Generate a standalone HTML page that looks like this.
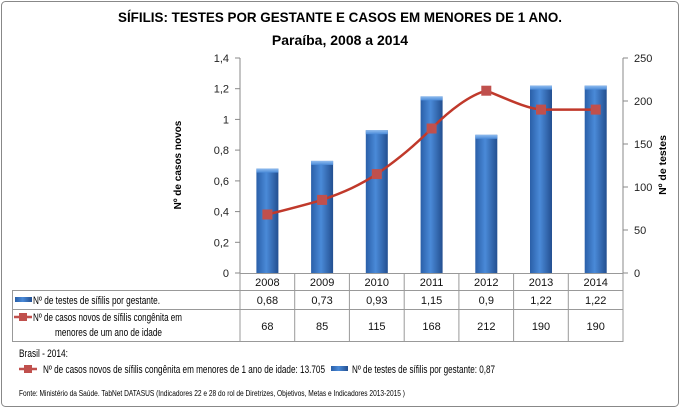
<!DOCTYPE html>
<html><head><meta charset="utf-8"><style>
body{margin:0;background:#fff}
svg{display:block;font-family:"Liberation Sans",sans-serif}
</style></head><body>
<svg width="680" height="408" viewBox="0 0 680 408">
<defs>
<linearGradient id="bg" x1="0" x2="1" y1="0" y2="0">
<stop offset="0" stop-color="#2a5fa8"/><stop offset="0.45" stop-color="#4a8ad8"/><stop offset="1" stop-color="#234f90"/>
</linearGradient>
<linearGradient id="bt" x1="0" x2="0" y1="0" y2="1">
<stop offset="0" stop-color="#8fbcef"/><stop offset="1" stop-color="#4a8ad8"/>
</linearGradient>
</defs>
<rect x="1.5" y="1.5" width="677" height="405" rx="4" fill="#fff" stroke="#888"/>
<text x="118" y="22" font-size="14" font-weight="bold" textLength="444" lengthAdjust="spacingAndGlyphs">SÍFILIS: TESTES POR GESTANTE E CASOS EM MENORES DE 1 ANO.</text>
<text x="340" y="45" font-size="14" font-weight="bold" text-anchor="middle">Paraíba, 2008 a 2014</text>
<g stroke="#888" stroke-width="1">
<line x1="240" y1="58" x2="240" y2="273"/>
<line x1="623" y1="58" x2="623" y2="273"/>
<line x1="235" y1="58" x2="240" y2="58"/><line x1="235" y1="88.7" x2="240" y2="88.7"/><line x1="235" y1="119.4" x2="240" y2="119.4"/><line x1="235" y1="150.1" x2="240" y2="150.1"/><line x1="235" y1="180.9" x2="240" y2="180.9"/><line x1="235" y1="211.6" x2="240" y2="211.6"/><line x1="235" y1="242.3" x2="240" y2="242.3"/><line x1="235" y1="273" x2="240" y2="273"/>
<line x1="623" y1="58" x2="628" y2="58"/><line x1="623" y1="101" x2="628" y2="101"/><line x1="623" y1="144" x2="628" y2="144"/><line x1="623" y1="187" x2="628" y2="187"/><line x1="623" y1="230" x2="628" y2="230"/><line x1="623" y1="273" x2="628" y2="273"/>
</g>
<g font-size="11" text-anchor="end" fill="#222">
<text x="229" y="62">1,4</text><text x="229" y="92.7">1,2</text><text x="229" y="123.4">1</text><text x="229" y="154.1">0,8</text><text x="229" y="184.9">0,6</text><text x="229" y="215.6">0,4</text><text x="229" y="246.3">0,2</text><text x="229" y="277">0</text>
</g>
<g font-size="11" fill="#222">
<text x="634" y="62">250</text><text x="634" y="105">200</text><text x="634" y="148">150</text><text x="634" y="191">100</text><text x="634" y="234">50</text><text x="634" y="277">0</text>
</g>
<text transform="translate(181,165) rotate(-90)" font-size="10" font-weight="bold" text-anchor="middle">Nº de casos  novos</text>
<text transform="translate(666,165) rotate(-90)" font-size="10.5" font-weight="bold" text-anchor="middle">Nº de testes</text>
<g fill="url(#bg)">
<rect x="256.4" y="168.6" width="22" height="104.4"/>
<rect x="311.1" y="160.9" width="22" height="112.1"/>
<rect x="365.8" y="130.2" width="22" height="142.8"/>
<rect x="420.6" y="96.4" width="22" height="176.6"/>
<rect x="475.3" y="134.8" width="22" height="138.2"/>
<rect x="530" y="85.6" width="22" height="187.4"/>
<rect x="584.7" y="85.6" width="22" height="187.4"/>
</g>
<g fill="url(#bt)">
<rect x="256.4" y="168.6" width="22" height="4"/><rect x="311.1" y="160.9" width="22" height="4"/><rect x="365.8" y="130.2" width="22" height="4"/><rect x="420.6" y="96.4" width="22" height="4"/><rect x="475.3" y="134.8" width="22" height="4"/><rect x="530" y="85.6" width="22" height="4"/><rect x="584.7" y="85.6" width="22" height="4"/>
</g>
<path d="M267.4,214.5 C285,210 305,205 322.1,199.9 C345,192 360,185 376.8,174.1 C400,158 415,145 431.6,128.5 C450,110 470,95 486.3,90.7 C505,98 525,108 541,109.6 L595.7,109.6" fill="none" stroke="#c0392b" stroke-width="2.5"/>
<g fill="#c0504d">
<rect x="262.4" y="209.5" width="10" height="10"/><rect x="317.1" y="194.9" width="10" height="10"/><rect x="371.8" y="169.1" width="10" height="10"/><rect x="426.6" y="123.5" width="10" height="10"/><rect x="481.3" y="85.7" width="10" height="10"/><rect x="536" y="104.6" width="10" height="10"/><rect x="590.7" y="104.6" width="10" height="10"/>
</g>
<g stroke="#999" fill="none" stroke-width="1">
<rect x="12.5" y="290.5" width="610.5" height="51"/>
<line x1="240" y1="273" x2="240" y2="341.5"/>
<line x1="294.7" y1="273" x2="294.7" y2="341.5"/><line x1="349.4" y1="273" x2="349.4" y2="341.5"/><line x1="404.2" y1="273" x2="404.2" y2="341.5"/><line x1="458.9" y1="273" x2="458.9" y2="341.5"/><line x1="513.6" y1="273" x2="513.6" y2="341.5"/><line x1="568.3" y1="273" x2="568.3" y2="341.5"/><line x1="623" y1="273" x2="623" y2="341.5"/>
<line x1="12.5" y1="309.5" x2="623" y2="309.5"/>
<line x1="240" y1="273.5" x2="623" y2="273.5"/>
</g>
<g font-size="11" text-anchor="middle" fill="#111">
<text x="267.4" y="286">2008</text><text x="322.1" y="286">2009</text><text x="376.8" y="286">2010</text><text x="431.6" y="286">2011</text><text x="486.3" y="286">2012</text><text x="541" y="286">2013</text><text x="595.7" y="286">2014</text>
<text x="267.4" y="304">0,68</text><text x="322.1" y="304">0,73</text><text x="376.8" y="304">0,93</text><text x="431.6" y="304">1,15</text><text x="486.3" y="304">0,9</text><text x="541" y="304">1,22</text><text x="595.7" y="304">1,22</text>
<text x="267.4" y="330">68</text><text x="322.1" y="330">85</text><text x="376.8" y="330">115</text><text x="431.6" y="330">168</text><text x="486.3" y="330">212</text><text x="541" y="330">190</text><text x="595.7" y="330">190</text>
</g>
<rect x="15" y="297" width="17" height="5" fill="url(#bg)"/>
<text x="33" y="304" font-size="11" textLength="127" lengthAdjust="spacingAndGlyphs">Nº de testes de sífilis por gestante.</text>
<line x1="14" y1="317" x2="32" y2="317" stroke="#c0504d" stroke-width="2.5"/><rect x="19" y="313" width="8" height="8" fill="#c0504d"/>
<text x="33" y="321" font-size="11" textLength="149" lengthAdjust="spacingAndGlyphs">Nº de casos novos de sífilis congênita em</text>
<text x="55" y="336" font-size="11" textLength="107" lengthAdjust="spacingAndGlyphs">menores de um ano de idade</text>
<text x="19" y="357" font-size="11" textLength="49" lengthAdjust="spacingAndGlyphs">Brasil - 2014:</text>
<line x1="19" y1="369" x2="37" y2="369" stroke="#c0504d" stroke-width="2.5"/><rect x="24" y="365" width="8" height="8" fill="#c0504d"/>
<text x="43" y="373" font-size="11" textLength="282" lengthAdjust="spacingAndGlyphs">Nº de casos novos de sífilis congênita em menores de 1 ano de idade: 13.705</text>
<rect x="331" y="366" width="17" height="5" fill="url(#bg)"/>
<text x="352" y="373" font-size="11" textLength="143" lengthAdjust="spacingAndGlyphs">Nº de testes de sífilis por gestante: 0,87</text>
<text x="19" y="396" font-size="8" textLength="386" lengthAdjust="spacingAndGlyphs">Fonte: Ministério da Saúde. TabNet DATASUS (Indicadores 22 e 28 do rol de Diretrizes, Objetivos, Metas e Indicadores 2013-2015 )</text>
</svg>
</body></html>
